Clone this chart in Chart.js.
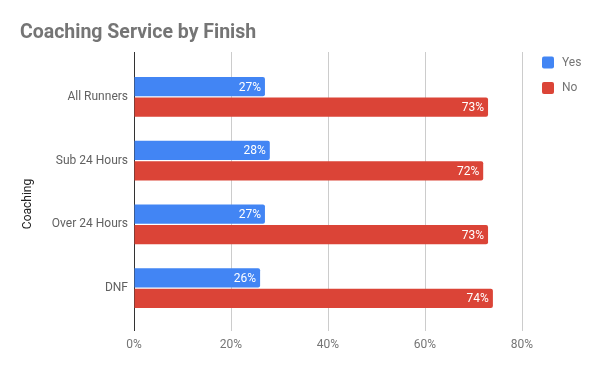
<!DOCTYPE html>
<html>
<head>
<meta charset="utf-8">
<script src="https://cdn.jsdelivr.net/npm/chart.js@4"></script>
<style>
  html, body { margin: 0; padding: 0; background: #fff; }
  #wrap { width: 600px; height: 371px; }
</style>
</head>
<body>
<div id="wrap"><canvas id="coachChart" width="600" height="371"></canvas></div>
<script>
'use strict';

const categories = ['All Runners', 'Sub 24 Hours', 'Over 24 Hours', 'DNF'];
const yesValues = [27, 28, 27, 26];
const noValues = [73, 72, 73, 74];
const xTicks = [0, 20, 40, 60, 80];

const FONT = 'Roboto, "Noto Sans", sans-serif';

// gridlines, axis line, title, legend, axis title and value labels
const decorations = {
  id: 'decorations',
  beforeDatasetsDraw(chart) {
    const c = chart.ctx;
    const xs = chart.scales.x;
    c.save();
    xTicks.forEach((t) => {
      const px = Math.round(xs.getPixelForValue(t)) + 0.5;
      c.strokeStyle = t === 0 ? '#333333' : '#cccccc';
      c.lineWidth = 1;
      c.beginPath();
      c.moveTo(px, 52);
      c.lineTo(px, 331);
      c.stroke();
    });
    c.restore();
  },
  afterDatasetsDraw(chart) {
    const c = chart.ctx;
    c.save();
    // value labels
    c.font = '12px ' + FONT;
    c.fillStyle = '#ffffff';
    c.textAlign = 'right';
    c.textBaseline = 'middle';
    chart.data.datasets.forEach((ds, i) => {
      chart.getDatasetMeta(i).data.forEach((bar, j) => {
        c.fillText(ds.data[j] + '%', bar.x - 4, bar.y + 1);
      });
    });
    c.restore();
  },
  afterDraw(chart) {
    const c = chart.ctx;
    c.save();
    c.fillStyle = '#757575';
    c.font = 'bold 19.5px ' + FONT;
    c.textAlign = 'left';
    c.textBaseline = 'alphabetic';
    c.fillText('Coaching Service by Finish', 20, 38);

    // legend
    c.font = '12px ' + FONT;
    c.textBaseline = 'middle';
    chart.data.datasets.forEach((ds, i) => {
      const y = 62.5 + i * 25.5;
      c.fillStyle = ds.backgroundColor;
      c.beginPath();
      c.roundRect(542, y - 6, 12, 12, 2);
      c.fill();
      c.fillStyle = '#757575';
      c.fillText(ds.label, 562, y);
    });

    // y axis title
    c.translate(28, 204);
    c.rotate(-Math.PI / 2);
    c.textAlign = 'center';
    c.fillStyle = '#222222';
    c.fillText('Coaching', 0, 0);
    c.restore();
  },
};

new Chart(document.getElementById('coachChart'), {
  type: 'bar',
  data: {
    labels: categories,
    datasets: [
      {
        label: 'Yes',
        data: yesValues,
        backgroundColor: '#4285F4',
        borderRadius: 2,
        borderSkipped: 'start',
        categoryPercentage: 0.645,
        barPercentage: 0.93,
      },
      {
        label: 'No',
        data: noValues,
        backgroundColor: '#DB4437',
        borderRadius: 2,
        borderSkipped: 'start',
        categoryPercentage: 0.645,
        barPercentage: 0.93,
      },
    ],
  },
  options: {
    indexAxis: 'y',
    responsive: false,
    animation: false,
    layout: { padding: { left: 0, right: 78, top: 65, bottom: 0 } },
    plugins: {
      legend: { display: false },
      title: { display: false },
      tooltip: { enabled: false },
    },
    scales: {
      x: {
        min: 0,
        max: 80,
        afterBuildTicks(scale) {
          scale.ticks = xTicks.map((v) => ({ value: v }));
        },
        afterFit(scale) {
          scale.height = 51;
        },
        grid: { display: true, drawOnChartArea: false, drawTicks: false, color: 'rgba(0,0,0,0)' },
        border: { display: false },
        ticks: {
          padding: 18,
          color: '#757575',
          font: { family: FONT, size: 12 },
          callback: (v) => v + '%',
        },
      },
      y: {
        afterFit(scale) {
          scale.width = 134;
        },
        grid: { display: true, drawOnChartArea: false, drawTicks: false, color: 'rgba(0,0,0,0)' },
        border: { display: false },
        ticks: {
          padding: 6,
          color: '#616161',
          font: { family: FONT, size: 12 },
        },
      },
    },
  },
  plugins: [decorations],
});
</script>
</body>
</html>
